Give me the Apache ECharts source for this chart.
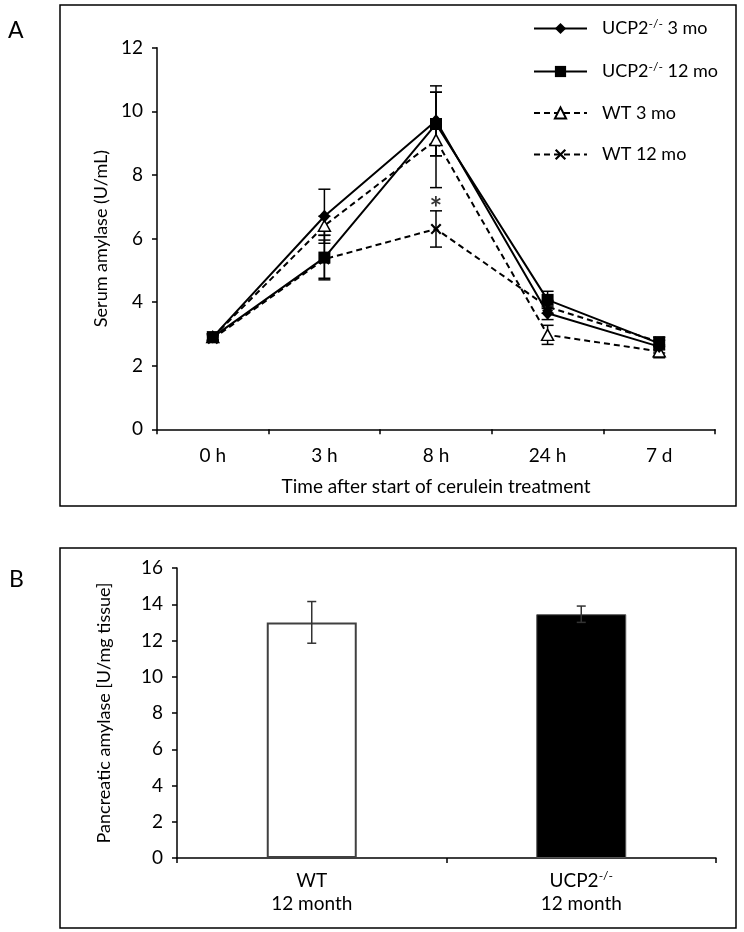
<!DOCTYPE html>
<html><head><meta charset="utf-8">
<script src="https://cdn.jsdelivr.net/npm/echarts@6/dist/echarts.min.js"></script>
<style>html,body{margin:0;padding:0;background:#fff}#c{width:744px;height:932px}</style>
</head><body><div id="c"></div>
<script>
// ---- Panel A data ----
const categoriesA = ['0 h', '3 h', '8 h', '24 h', '7 d'];
const ucp3 = [2.9, 6.7, 9.7, 3.65, 2.6];
const ucp3Err = [0.1, 0.85, 1.1, 0.2, 0.2];
const ucp12 = [2.9, 5.4, 9.6, 4.07, 2.7];
const ucp12Err = [0.1, 0.7, 1.0, 0.27, 0.2];
const wt3 = [2.9, 6.4, 9.1, 2.97, 2.45];
const wt3Err = [0.1, 0.3, 1.5, 0.3, 0.2];
const wt12 = [2.85, 5.35, 6.3, 3.85, 2.75];
const wt12Err = [0.1, 0.6, 0.57, 0.2, 0.15];
const sigPoints = [['8 h', 7.15]];
const ticksA = [0, 2, 4, 6, 8, 10, 12];
// ---- Panel B data ----
const categoriesB = ['WT', 'UCP2'];
const valuesB = [13.0, 13.45];
const errB = [1.15, 0.45];
const ticksB = [0, 2, 4, 6, 8, 10, 12, 14, 16];

const FONT = 'Lato';
const TICK_FS = 19;
const chart = echarts.init(document.getElementById('c'), null, {renderer: 'canvas'});

function errSeries(name, vals, errs, xi, yi, cap, color) {
  return {
    type: 'custom', name: name, xAxisIndex: xi, yAxisIndex: yi, z: 1, silent: true,
    data: vals.map((v, i) => [i, v, errs[i]]),
    renderItem: function (params, api) {
      const x = api.value(0), y = api.value(1), e = api.value(2);
      const top = api.coord([x, y + e]);
      const bot = api.coord([x, y - e]);
      const st = {stroke: color, lineWidth: 1.5};
      return {type: 'group', children: [
        {type: 'line', shape: {x1: top[0], y1: top[1], x2: bot[0], y2: bot[1]}, style: st},
        {type: 'line', shape: {x1: top[0] - cap, y1: top[1], x2: top[0] + cap, y2: top[1]}, style: st},
        {type: 'line', shape: {x1: bot[0] - cap, y1: bot[1], x2: bot[0] + cap, y2: bot[1]}, style: st}
      ]};
    }
  };
}

const crossPath = 'path://M0,1.4 L1.4,0 L5,3.6 L8.6,0 L10,1.4 L6.4,5 L10,8.6 L8.6,10 L5,6.4 L1.4,10 L0,8.6 L3.6,5 Z';
const supStyle = {fontSize: 12, fontFamily: FONT, color: '#000', padding: [0, 0, 9, 0]};
const legendNames = {
  'UCP2 3 mo': 'UCP2{sup|-/-} 3 mo',
  'UCP2 12 mo': 'UCP2{sup|-/-} 12 mo',
  'WT 3 mo': 'WT 3 mo',
  'WT 12 mo': 'WT 12 mo'
};

const option = {
  animation: false,
  backgroundColor: '#fff',
  title: [
    {text: 'A', left: 3, top: 14, textStyle: {fontFamily: FONT, fontSize: 23, fontWeight: 'normal', color: '#000'}},
    {text: 'B', left: 4, top: 563, textStyle: {fontFamily: FONT, fontSize: 23, fontWeight: 'normal', color: '#000'}}
  ],
  graphic: [
    {type: 'rect', shape: {x: 60, y: 5, width: 676, height: 501}, style: {fill: 'none', stroke: '#000', lineWidth: 1.5}},
    {type: 'rect', shape: {x: 60, y: 548, width: 676, height: 380}, style: {fill: 'none', stroke: '#000', lineWidth: 1.5}}
  ],
  legend: {
    orient: 'vertical', left: 528, top: 13, itemWidth: 53, itemHeight: 14, itemGap: 23.5,
    data: ['UCP2 3 mo', 'UCP2 12 mo', 'WT 3 mo', 'WT 12 mo'],
    formatter: n => legendNames[n],
    textStyle: {fontFamily: FONT, fontSize: 18, color: '#000', padding: [0, 0, 0, 10], rich: {sup: supStyle}}
  },
  grid: [
    {left: 157, top: 47.7, width: 558, height: 381.6, containLabel: false},
    {left: 177, top: 568, width: 539, height: 290, containLabel: false}
  ],
  xAxis: [
    {
      gridIndex: 0, type: 'category', data: categoriesA, boundaryGap: true,
      axisLine: {lineStyle: {color: '#000', width: 1.5}},
      axisTick: {show: true, length: 5, lineStyle: {color: '#000', width: 1.5}},
      axisLabel: {fontFamily: FONT, fontSize: TICK_FS, color: '#000', margin: 17},
      name: 'Time after start of cerulein treatment', nameLocation: 'middle', nameGap: 48,
      nameTextStyle: {fontFamily: FONT, fontSize: 19, color: '#000'}
    },
    {
      gridIndex: 1, type: 'category', data: categoriesB, boundaryGap: true,
      axisLine: {lineStyle: {color: '#000', width: 1.5}},
      axisTick: {show: true, length: 5, lineStyle: {color: '#000', width: 1.5}},
      axisLabel: {
        fontFamily: FONT, fontSize: TICK_FS, color: '#000', margin: 11, lineHeight: 23,
        formatter: v => (v === 'UCP2' ? 'UCP2{sup|-/-}' : v) + '\n12 month',
        rich: {sup: supStyle}
      }
    }
  ],
  yAxis: [
    {
      gridIndex: 0, type: 'value', min: 0, max: 12, interval: 2,
      axisLine: {show: true, lineStyle: {color: '#000', width: 1.5}},
      axisTick: {show: true, length: 5, lineStyle: {color: '#000', width: 1.5}},
      splitLine: {show: false},
      axisLabel: {fontFamily: FONT, fontSize: TICK_FS, color: '#000', margin: 14,
        formatter: v => ticksA.includes(v) ? String(v) : ''},
      name: 'Serum amylase (U/mL)', nameLocation: 'middle', nameGap: 46,
      nameTextStyle: {fontFamily: FONT, fontSize: 18, color: '#000'}
    },
    {
      gridIndex: 1, type: 'value', min: 0, max: 16, interval: 2,
      axisLine: {show: true, lineStyle: {color: '#000', width: 1.5}},
      axisTick: {show: true, length: 5, lineStyle: {color: '#000', width: 1.5}},
      splitLine: {show: false},
      axisLabel: {fontFamily: FONT, fontSize: TICK_FS, color: '#000', margin: 14,
        formatter: v => ticksB.includes(v) ? String(v) : ''},
      name: 'Pancreatic amylase [U/mg tissue]', nameLocation: 'middle', nameGap: 64,
      nameTextStyle: {fontFamily: FONT, fontSize: 18, color: '#000'}
    }
  ],
  series: [
    errSeries('e1', ucp3, ucp3Err, 0, 0, 6, '#000'),
    errSeries('e2', ucp12, ucp12Err, 0, 0, 6, '#000'),
    errSeries('e3', wt3, wt3Err, 0, 0, 6, '#000'),
    errSeries('e4', wt12, wt12Err, 0, 0, 6, '#000'),
    {
      name: 'WT 3 mo', type: 'line', xAxisIndex: 0, yAxisIndex: 0, data: wt3, z: 3,
      symbol: 'triangle', symbolSize: [12, 11], showAllSymbol: true,
      lineStyle: {color: '#000', width: 2, type: [6, 4]},
      itemStyle: {color: '#fff', borderColor: '#000', borderWidth: 1.5}
    },
    {
      name: 'WT 12 mo', type: 'line', xAxisIndex: 0, yAxisIndex: 0, data: wt12, z: 3,
      symbol: crossPath, symbolSize: 11, showAllSymbol: true,
      lineStyle: {color: '#000', width: 2, type: [6, 4]},
      itemStyle: {color: '#000', borderWidth: 0}
    },
    {
      name: 'UCP2 3 mo', type: 'line', xAxisIndex: 0, yAxisIndex: 0, data: ucp3, z: 4,
      symbol: 'diamond', symbolSize: [12, 13], showAllSymbol: true,
      lineStyle: {color: '#000', width: 2},
      itemStyle: {color: '#000', borderWidth: 0}
    },
    {
      name: 'UCP2 12 mo', type: 'line', xAxisIndex: 0, yAxisIndex: 0, data: ucp12, z: 4,
      symbol: 'rect', symbolSize: 12, showAllSymbol: true,
      lineStyle: {color: '#000', width: 2},
      itemStyle: {color: '#000', borderWidth: 0}
    },
    {
      name: 'sig', type: 'scatter', xAxisIndex: 0, yAxisIndex: 0, data: sigPoints, z: 6,
      symbol: 'circle', symbolSize: 1, silent: true,
      itemStyle: {color: 'rgba(0,0,0,0)'},
      label: {show: true, position: 'inside', formatter: '*', fontFamily: FONT, fontSize: 30, fontWeight: 'bold',
        color: '#000', textBorderWidth: 0, offset: [0, 7]}
    },
    {
      name: 'bars', type: 'bar', xAxisIndex: 1, yAxisIndex: 1, barWidth: 90, z: 2,
      data: valuesB.map((v, i) => ({
        value: v,
        itemStyle: i === 0
          ? {color: '#fff', borderColor: '#404040', borderWidth: 2}
          : {color: '#000', borderColor: '#555', borderWidth: 1}
      }))
    },
    Object.assign(errSeries('eb', valuesB, errB, 1, 1, 4.5, '#333'), {z: 5})
  ]
};
chart.setOption(option);
</script></body></html>
